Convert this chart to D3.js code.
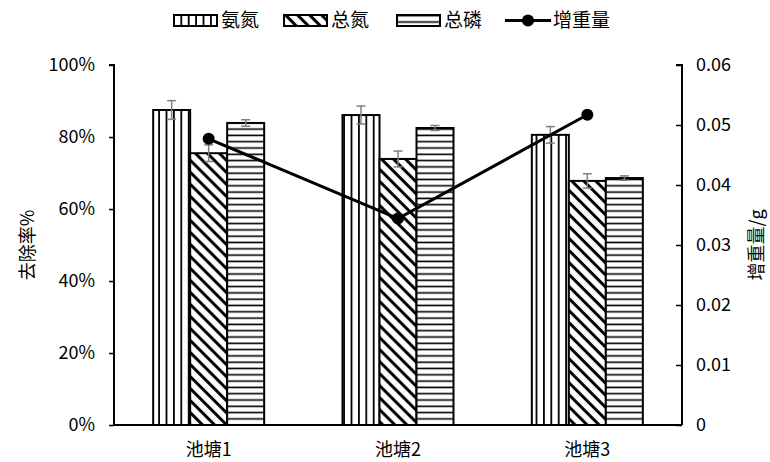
<!DOCTYPE html>
<html>
<head>
<meta charset="utf-8">
<script src="https://cdn.jsdelivr.net/npm/d3@7"></script>
<style>
  html, body { margin: 0; padding: 0; background: #fff; }
  svg text { font-family: "Noto Sans CJK SC", "Noto Sans", sans-serif; fill: #000; }
</style>
</head>
<body>
<svg id="chart" width="770" height="462"></svg>
<script>
// Ponds and removal-rate series (%)
const categories = ["池塘1", "池塘2", "池塘3"];
const seriesNames = ["氨氮", "总氮", "总磷"];
const ammonia = [87.5, 86.1, 80.6];
const ammoniaErr = [2.6, 2.5, 2.3];
const totalN = [75.5, 73.9, 67.8];
const totalNErr = [2.3, 2.2, 2.0];
const totalP = [83.9, 82.5, 68.6];
const totalPErr = [0.9, 0.7, 0.6];
// Weight gain (g), right axis
const weightGain = [0.0477, 0.0344, 0.0517];
const lineName = "增重量";
const leftTicks = [0, 20, 40, 60, 80, 100];
const rightTicks = [0, 0.01, 0.02, 0.03, 0.04, 0.05, 0.06];

const svg = d3.select("#chart");
const plotL = 114, plotR = 682, plotT = 65, plotB = 425;

const x = d3.scaleBand().domain(categories).range([plotL, plotR]);
const xs = d3.scaleBand().domain(seriesNames).range([0, 111]);
const yL = d3.scaleLinear().domain([0, 100]).range([plotB, plotT]);
const yR = d3.scaleLinear().domain([0, 0.06]).range([plotB, plotT]);

// Fill patterns
const defs = svg.append("defs");
const pv = defs.append("pattern").attr("id", "pv").attr("patternUnits", "userSpaceOnUse")
  .attr("width", 7.4).attr("height", 10);
pv.append("rect").attr("width", 7.4).attr("height", 10).attr("fill", "#fff");
pv.append("line").attr("x1", 3.7).attr("x2", 3.7).attr("y1", 0).attr("y2", 10)
  .attr("stroke", "#000").attr("stroke-width", 1.8);

const ph = defs.append("pattern").attr("id", "ph").attr("patternUnits", "userSpaceOnUse")
  .attr("width", 10).attr("height", 6.3);
ph.append("rect").attr("width", 10).attr("height", 6.3).attr("fill", "#fff");
ph.append("line").attr("x1", 0).attr("x2", 10).attr("y1", 3.1).attr("y2", 3.1)
  .attr("stroke", "#000").attr("stroke-width", 1.6);

const pd = defs.append("pattern").attr("id", "pd").attr("patternUnits", "userSpaceOnUse")
  .attr("width", 8.5).attr("height", 8.5).attr("patternTransform", "rotate(45)");
pd.append("rect").attr("width", 8.5).attr("height", 8.5).attr("fill", "#fff");
pd.append("line").attr("x1", 0).attr("x2", 8.5).attr("y1", 4.25).attr("y2", 4.25)
  .attr("stroke", "#000").attr("stroke-width", 3);

const fills = { "氨氮": "url(#pv)", "总氮": "url(#pd)", "总磷": "url(#ph)" };
const values = { "氨氮": ammonia, "总氮": totalN, "总磷": totalP };
const errs = { "氨氮": ammoniaErr, "总氮": totalNErr, "总磷": totalPErr };

// Bars
const groupOffset = (x.bandwidth() - 111) / 2;
seriesNames.forEach(s => {
  categories.forEach((c, i) => {
    const bx = x(c) + groupOffset + xs(s);
    svg.append("rect")
      .attr("x", bx).attr("y", yL(values[s][i]))
      .attr("width", xs.bandwidth()).attr("height", plotB - yL(values[s][i]))
      .attr("fill", fills[s]).attr("stroke", "#000").attr("stroke-width", 2);
  });
});

// Error bars
seriesNames.forEach(s => {
  categories.forEach((c, i) => {
    const cx = x(c) + groupOffset + xs(s) + xs.bandwidth() / 2;
    const v = values[s][i], e = errs[s][i];
    const g = svg.append("g").attr("stroke", "#7f7f7f").attr("stroke-width", 1.5);
    g.append("line").attr("x1", cx).attr("x2", cx).attr("y1", yL(v + e)).attr("y2", yL(v - e));
    g.append("line").attr("x1", cx - 4.5).attr("x2", cx + 4.5).attr("y1", yL(v + e)).attr("y2", yL(v + e));
    g.append("line").attr("x1", cx - 4.5).attr("x2", cx + 4.5).attr("y1", yL(v - e)).attr("y2", yL(v - e));
  });
});

// Axes
const axL = d3.axisLeft(yL).tickValues(leftTicks).tickFormat(d => d + "%").tickSize(5).tickPadding(14);
const gL = svg.append("g").attr("transform", `translate(${plotL},0)`).call(axL);
const axR = d3.axisRight(yR).tickValues(rightTicks).tickFormat(d => d === 0 ? "0" : d3.format(".2f")(d)).tickSize(0).tickPadding(14);
const gR = svg.append("g").attr("transform", `translate(${plotR},0)`).call(axR);
gR.selectAll(".tick").append("line").attr("x1", -6).attr("x2", 0).attr("stroke", "#000").attr("stroke-width", 1.5);
const axB = d3.axisBottom(x).tickSize(0).tickPadding(18);
const gB = svg.append("g").attr("transform", `translate(0,${plotB})`).call(axB);

[gL, gR, gB].forEach(g => {
  g.select(".domain").attr("stroke", "#000").attr("stroke-width", 2);
  g.selectAll(".tick line").attr("stroke", "#000").attr("stroke-width", 1.5);
  g.selectAll(".tick text").attr("font-size", 18).attr("fill", "#000")
    .style("font-family", "'Noto Sans CJK SC', 'Noto Sans', sans-serif");
});
gL.select(".domain").attr("d", `M-5,${plotT}H0V${plotB}`);
gR.select(".domain").attr("d", `M-6,${plotT}H0V${plotB}`);
gB.select(".domain").attr("d", `M${plotL},0H${plotR}`);

// Weight-gain line
const cxLine = c => x(c) + x.bandwidth() / 2;
const line = d3.line().x((d, i) => cxLine(categories[i])).y(d => yR(d));
svg.append("path").datum(weightGain).attr("d", line)
  .attr("fill", "none").attr("stroke", "#000").attr("stroke-width", 3);
svg.selectAll(".dot").data(weightGain).join("circle")
  .attr("cx", (d, i) => cxLine(categories[i])).attr("cy", d => yR(d)).attr("r", 6).attr("fill", "#000");

// Axis titles
svg.append("text").attr("transform", "translate(34,245) rotate(-90)")
  .attr("text-anchor", "middle").attr("font-size", 18).text("去除率%");
svg.append("text").attr("transform", "translate(763,245) rotate(-90)")
  .attr("text-anchor", "middle").attr("font-size", 18).text("增重量/g");

// Legend
const leg = svg.append("g");
const legItems = [
  { name: "氨氮", fill: "url(#pv)", x: 174 },
  { name: "总氮", fill: "url(#pd)", x: 284 },
  { name: "总磷", fill: "url(#ph)", x: 397 }
];
legItems.forEach(it => {
  leg.append("rect").attr("x", it.x).attr("y", 15).attr("width", 43).attr("height", 11)
    .attr("fill", it.fill).attr("stroke", "#000").attr("stroke-width", 2);
  leg.append("text").attr("x", it.x + 47).attr("y", 27).attr("font-size", 19).text(it.name);
});
leg.append("line").attr("x1", 505).attr("x2", 551).attr("y1", 20.5).attr("y2", 20.5)
  .attr("stroke", "#000").attr("stroke-width", 3);
leg.append("circle").attr("cx", 528).attr("cy", 20.5).attr("r", 6).attr("fill", "#000");
leg.append("text").attr("x", 553).attr("y", 27).attr("font-size", 19).text(lineName);
</script>
</body>
</html>
